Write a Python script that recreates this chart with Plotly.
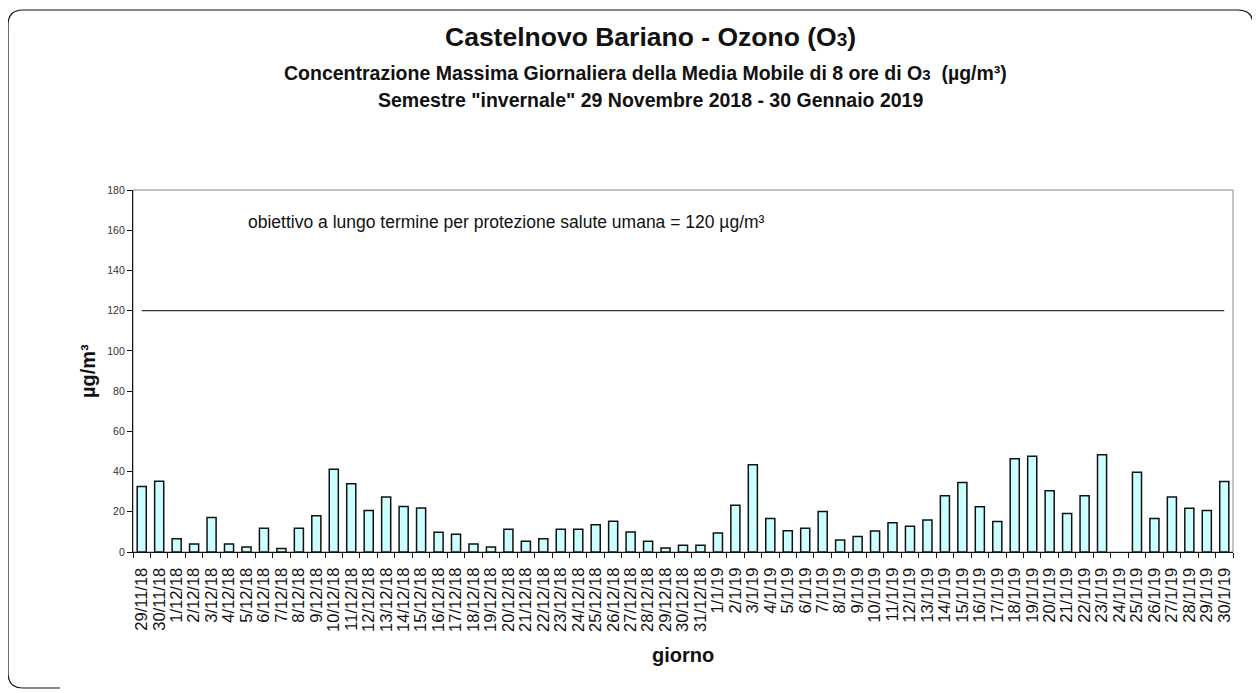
import plotly.graph_objects as go

dates = ["29/11/18", "30/11/18"] + [f"{d}/12/18" for d in range(1, 32)] + [f"{d}/1/19" for d in range(1, 31)]
values = [32.6, 35.2, 6.6, 4.0, 17.2, 4.0, 2.5, 11.8, 1.8, 11.8, 18.0, 41.2, 33.9, 20.6, 27.4, 22.6, 21.9,
          9.8, 8.8, 4.0, 2.5, 11.3, 5.3, 6.6, 11.3, 11.3, 13.5, 15.3, 10.0, 5.3, 2.0, 3.3, 3.3,
          9.5, 23.3, 43.4, 16.6, 10.6, 11.8, 20.1, 6.0, 7.7, 10.5, 14.6, 12.8, 15.9, 28.0, 34.5,
          22.5, 15.2, 46.4, 47.6, 30.4, 19.2, 28.0, 48.4, None, 39.6, 16.6, 27.3, 21.8, 20.6, 35.0]
limit_value = 120
limit_x = [dates[0], dates[-1]]
limit_y = [limit_value, limit_value]

OFF = 8  # page body margin
W, H = 1260 - OFF, 693 - OFF
L, T = 133 - OFF, 190 - OFF
R = W - (1233 - OFF)
B = H - (552 - OFF)
PW, PH = W - L - R, H - T - B


def px(x):
    return (x - OFF - L) / PW


def py(y):
    return (H - B - (y - OFF)) / PH


FONT = "Liberation Sans, Arial, sans-serif"

fig = go.Figure()
fig.add_trace(go.Bar(x=dates, y=values, marker=dict(color="#CCFFFF", line=dict(color="#111111", width=1.5)),
                     showlegend=False))
fig.add_trace(go.Scatter(x=limit_x, y=limit_y, mode="lines", line=dict(color="#333333", width=1.2),
                         showlegend=False))

r = 15
x0, x1, y0, y1 = 8, 1253, 10, 688
path = (f"M {px(x0)} {py(400)} L {px(x0)} {py(y1 - r)} Q {px(x0)} {py(y1)} {px(x0 + r)} {py(y1)} L {px(60)} {py(y1)} "
        f"M {px(x0)} {py(400)} L {px(x0)} {py(y0 + r)} Q {px(x0)} {py(y0)} {px(x0 + r)} {py(y0)} "
        f"L {px(x1 - r)} {py(y0)} Q {px(x1)} {py(y0)} {px(x1)} {py(y0 + r)} L {px(x1)} {py(60)}")

fig.update_layout(
    width=W, height=H,
    margin=dict(l=L, r=R, t=T, b=B),
    paper_bgcolor="white", plot_bgcolor="white",
    font=dict(family=FONT, color="#111111"),
    bargap=0.48,
    xaxis=dict(type="category", tickmode="linear", tick0=0, dtick=1,
               showline=True, linecolor="#111111", linewidth=1.2, ticks="outside",
               tickson="boundaries", ticklen=5, tickcolor="#111111", tickangle=-90,
               ticklabelstandoff=8,
               tickfont=dict(size=16.5, family=FONT, color="#111111"), showgrid=False, zeroline=False),
    yaxis=dict(range=[0, 180], dtick=20, showline=True, linecolor="#111111", linewidth=1.2, ticks="outside",
               ticklen=5, tickcolor="#111111", tickfont=dict(size=10.5, family=FONT, color="#333333"),
               showgrid=False, zeroline=False),
    shapes=[
        dict(type="rect", xref="paper", yref="paper", x0=0, x1=1, y0=0, y1=1,
             line=dict(color="#888888", width=1), layer="below"),
        dict(type="path", xref="paper", yref="paper", path=path, line=dict(color="#111111", width=1.2)),
    ],
    annotations=[
        dict(text="<b>Castelnovo Bariano - Ozono (O<span style='font-size:19px'>3</span>)</b>",
             xref="paper", yref="paper",
             x=px(650), y=py(37), showarrow=False, font=dict(size=26.5, family=FONT, color="#111111"),
             xanchor="center", yanchor="middle"),
        dict(text="<b>Concentrazione Massima Giornaliera della Media Mobile di 8 ore di O<span style='font-size:15px'>3</span>  (µg/m³)</b>",
             xref="paper", yref="paper", x=px(645), y=py(73), showarrow=False,
             font=dict(size=19.5, family=FONT, color="#111111"), xanchor="center", yanchor="middle"),
        dict(text='<b>Semestre "invernale" 29 Novembre 2018 - 30 Gennaio 2019</b>', xref="paper", yref="paper",
             x=px(650), y=py(100), showarrow=False, font=dict(size=19.5, family=FONT, color="#111111"),
             xanchor="center", yanchor="middle"),
        dict(text="obiettivo a lungo termine per protezione salute umana = 120 µg/m³", xref="paper", yref="paper",
             x=px(246), y=py(222), showarrow=False, font=dict(size=17.5, family=FONT, color="#111111"),
             xanchor="left", yanchor="middle"),
        dict(text="<b>µg/m³</b>", xref="paper", yref="paper", x=px(88), y=py(371), showarrow=False,
             textangle=-90, font=dict(size=20, family=FONT, color="#111111"), xanchor="center", yanchor="middle"),
        dict(text="<b>giorno</b>", xref="paper", yref="paper", x=px(683), y=py(655), showarrow=False,
             font=dict(size=20, family=FONT, color="#111111"), xanchor="center", yanchor="middle"),
    ],
)

fig.write_html("out.html")
